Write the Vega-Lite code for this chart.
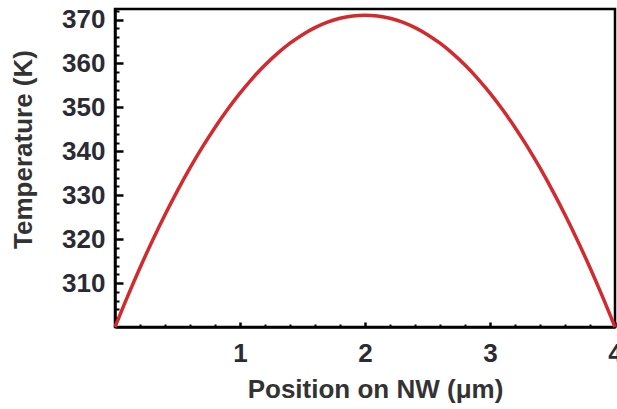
{
  "$schema": "https://vega.github.io/schema/vega-lite/v6.json",
  "autosize": "none",
  "width": 500,
  "height": 318,
  "padding": {"left": 115, "top": 9, "right": 2, "bottom": 82},
  "background": "white",
  "config": {
    "view": {"stroke": "black", "strokeWidth": 2.5},
    "axis": {
      "domainColor": "black",
      "domainWidth": 2.5,
      "tickColor": "black",
      "grid": false,
      "labelFont": "Liberation Sans",
      "labelFontWeight": "bold",
      "labelFontSize": 26,
      "labelColor": "#2b2b33",
      "titleFont": "Liberation Sans",
      "titleFontWeight": "bold",
      "titleFontSize": 26,
      "titleColor": "#333333"
    }
  },
  "data": {
    "values": [
      {"x": 0.0, "T": 300.0}, {"x": 0.1, "T": 306.92}, {"x": 0.2, "T": 313.49}, {"x": 0.3, "T": 319.7},
      {"x": 0.4, "T": 325.56}, {"x": 0.5, "T": 331.06}, {"x": 0.6, "T": 336.21}, {"x": 0.7, "T": 341.0},
      {"x": 0.8, "T": 345.44}, {"x": 0.9, "T": 349.52}, {"x": 1.0, "T": 353.25}, {"x": 1.1, "T": 356.62},
      {"x": 1.2, "T": 359.64}, {"x": 1.3, "T": 362.3}, {"x": 1.4, "T": 364.61}, {"x": 1.5, "T": 366.56},
      {"x": 1.6, "T": 368.16}, {"x": 1.7, "T": 369.4}, {"x": 1.8, "T": 370.29}, {"x": 1.9, "T": 370.82},
      {"x": 2.0, "T": 371.0}, {"x": 2.1, "T": 370.82}, {"x": 2.2, "T": 370.29}, {"x": 2.3, "T": 369.4},
      {"x": 2.4, "T": 368.16}, {"x": 2.5, "T": 366.56}, {"x": 2.6, "T": 364.61}, {"x": 2.7, "T": 362.3},
      {"x": 2.8, "T": 359.64}, {"x": 2.9, "T": 356.62}, {"x": 3.0, "T": 353.25}, {"x": 3.1, "T": 349.52},
      {"x": 3.2, "T": 345.44}, {"x": 3.3, "T": 341.0}, {"x": 3.4, "T": 336.21}, {"x": 3.5, "T": 331.06},
      {"x": 3.6, "T": 325.56}, {"x": 3.7, "T": 319.7}, {"x": 3.8, "T": 313.49}, {"x": 3.9, "T": 306.92},
      {"x": 4.0, "T": 300.0}
    ]
  },
  "layer": [
    {
      "mark": {"type": "line", "opacity": 0},
      "encoding": {
        "x": {"field": "x", "type": "quantitative", "scale": {"domain": [0, 4], "nice": false},
          "axis": {"orient": "bottom", "title": null, "labels": false, "domain": false, "tickSize": -3, "tickWidth": 2,
            "values": [0.2, 0.4, 0.6, 0.8, 1.2, 1.4, 1.6, 1.8, 2.2, 2.4, 2.6, 2.8, 3.2, 3.4, 3.6, 3.8]}},
        "y": {"field": "T", "type": "quantitative", "scale": {"domain": [300, 372.4], "nice": false, "zero": false},
          "axis": {"orient": "left", "title": null, "labels": false, "domain": false, "tickSize": -4, "tickWidth": 2,
            "values": [302, 304, 306, 308, 312, 314, 316, 318, 322, 324, 326, 328, 332, 334, 336, 338, 342, 344, 346, 348, 352, 354, 356, 358, 362, 364, 366, 368, 372]}}
      }
    },
    {
      "mark": {"type": "line", "color": "#d22a2e", "strokeWidth": 3.5, "interpolate": "monotone"},
      "encoding": {
        "x": {"field": "x", "type": "quantitative", "scale": {"domain": [0, 4], "nice": false},
          "axis": {"orient": "bottom", "title": "Position on NW (μm)", "values": [1, 2, 3, 4], "tickSize": -5, "tickWidth": 2.5,
            "labelPadding": 18, "titleX": 260, "titleY": 49, "labelFlush": false}},
        "y": {"field": "T", "type": "quantitative", "scale": {"domain": [300, 372.4], "nice": false, "zero": false},
          "axis": {"orient": "left", "title": "Temperature (K)", "values": [310, 320, 330, 340, 350, 360, 370], "tickSize": -8, "tickWidth": 2.5,
            "labelPadding": 18, "titleX": -79, "titleY": 140}}
      }
    }
  ],
  "resolve": {"axis": {"x": "independent", "y": "independent"}}
}
